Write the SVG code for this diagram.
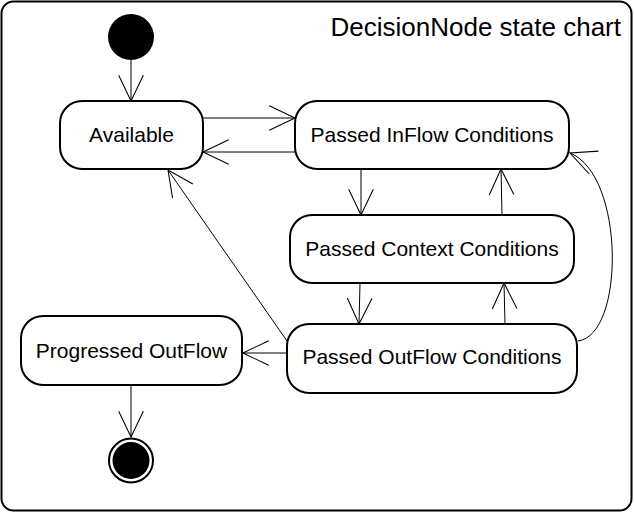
<svg xmlns="http://www.w3.org/2000/svg" width="634" height="513" viewBox="0 0 634 513">
<style>
.node{fill:#fff;stroke:#000;stroke-width:2}
.lbl{font-family:"Liberation Sans",Arial,sans-serif;font-size:21px;fill:#000;text-anchor:middle}
.conn{fill:none;stroke:#000;stroke-width:1;marker-end:url(#ah)}
</style>
<defs>
<marker id="ah" markerUnits="userSpaceOnUse" markerWidth="30" markerHeight="30" viewBox="-26 -14 28 28" refX="0" refY="0" orient="auto" overflow="visible">
<path d="M-24,-11.5 L0,0 L-24,11.5" fill="none" stroke="#000" stroke-width="1"/>
</marker>
</defs>
<g id="frame">
<rect x="1.5" y="1.5" width="630" height="509" rx="12" fill="#fff" stroke="#000" stroke-width="2"/>
<text x="621" y="36" font-family="Liberation Sans,Arial,sans-serif" font-size="26" text-anchor="end">DecisionNode state chart</text>
</g>
<g id="connectors">
<line class="conn" x1="131" y1="60" x2="131" y2="101"/>
<line class="conn" x1="203" y1="118" x2="295" y2="118"/>
<line class="conn" x1="295" y1="152" x2="203" y2="152"/>
<line class="conn" x1="361" y1="169" x2="361" y2="215"/>
<line class="conn" x1="502" y1="215" x2="501" y2="169"/>
<line class="conn" x1="360" y1="283" x2="359" y2="324"/>
<line class="conn" x1="505" y1="324" x2="504" y2="283"/>
<line class="conn" x1="287" y1="341" x2="168" y2="170"/>
<line class="conn" x1="287" y1="353" x2="243" y2="353"/>
<path class="conn" d="M578,341 C625,335 625,175 570,153"/>
<line class="conn" x1="131" y1="385" x2="131" y2="437"/>
</g>
<g id="initial">
<circle cx="131" cy="37" r="23" fill="#000"/>
</g>
<g id="available">
<rect class="node" x="60" y="101" width="143" height="68" rx="22"/>
<text class="lbl" x="131.5" y="142">Available</text>
</g>
<g id="passedInFlow">
<rect class="node" x="295" y="101" width="274" height="68" rx="22"/>
<text class="lbl" x="432" y="142">Passed InFlow Conditions</text>
</g>
<g id="passedContext">
<rect class="node" x="290" y="215" width="284" height="68" rx="22"/>
<text class="lbl" x="432" y="256">Passed Context Conditions</text>
</g>
<g id="passedOutFlow">
<rect class="node" x="287" y="324" width="290" height="69" rx="22"/>
<text class="lbl" x="432" y="364">Passed OutFlow Conditions</text>
</g>
<g id="progressedOutFlow">
<rect class="node" x="21" y="316" width="221" height="69" rx="22"/>
<text class="lbl" x="131.5" y="358">Progressed OutFlow</text>
</g>
<g id="final">
<circle cx="131" cy="460.5" r="22" fill="#fff" stroke="#000" stroke-width="2"/>
<circle cx="131" cy="460.5" r="18.5" fill="#000"/>
</g>
</svg>
